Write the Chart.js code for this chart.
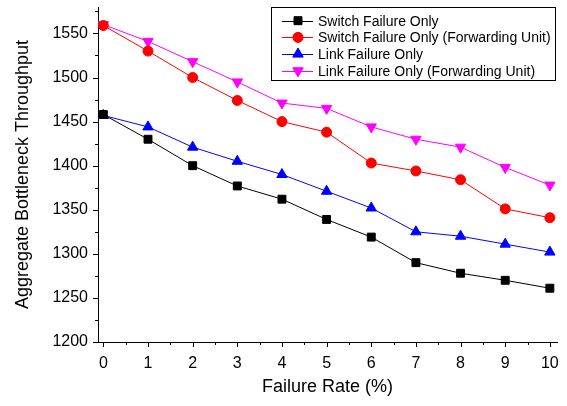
<!DOCTYPE html>
<html>
<head>
<meta charset="utf-8">
<script src="https://cdn.jsdelivr.net/npm/chart.js@4.4.0/dist/chart.umd.min.js"></script>
<style>
  html, body { margin: 0; padding: 0; background: #fff; }
  #wrap { position: relative; width: 567px; height: 406px; }
</style>
</head>
<body>
<div id="wrap"><canvas id="c"></canvas></div>
<script>
  // failure rate (%) on x
  var failureRate = [0, 1, 2, 3, 4, 5, 6, 7, 8, 9, 10];
  var switchOnly    = [1458, 1430, 1400, 1377, 1362, 1339, 1319, 1290, 1278, 1270, 1261];
  var switchFwd     = [1559, 1530, 1500, 1474, 1450, 1438, 1403, 1394, 1384, 1351, 1341];
  var linkOnly      = [1457, 1444, 1421, 1405, 1390, 1371, 1352, 1325, 1320, 1311, 1302];
  var linkFwd       = [1560, 1541, 1518, 1495, 1471, 1465, 1444, 1430, 1421, 1398, 1378];
  var seriesNames = ["Switch Failure Only", "Switch Failure Only (Forwarding Unit)",
                     "Link Failure Only", "Link Failure Only (Forwarding Unit)"];
  var xTicks = [0, 1, 2, 3, 4, 5, 6, 7, 8, 9, 10];
  var xMinor = [0.5, 1.5, 2.5, 3.5, 4.5, 5.5, 6.5, 7.5, 8.5, 9.5];
  var yTicks = [1200, 1250, 1300, 1350, 1400, 1450, 1500, 1550];
  var yMinor = [1225, 1275, 1325, 1375, 1425, 1475, 1525, 1575];

  var FONT = "Arial, 'Liberation Sans', sans-serif";

  function pts(vals) {
    return vals.map(function (v, i) { return { x: failureRate[i], y: v }; });
  }
  function ds(label, vals, color, style, r, rot) {
    return {
      label: label, data: pts(vals), borderColor: color, backgroundColor: color,
      borderWidth: 1, pointStyle: style, pointRadius: r, pointHoverRadius: r,
      pointRotation: rot || 0, pointBorderWidth: 1, showLine: true, tension: 0
    };
  }

  /* Origin-style tick marks: outward, major longer than minor */
  var tickMarks = {
    id: "tickMarks",
    afterDraw: function (chart) {
      var ctx = chart.ctx, xs = chart.scales.x, ys = chart.scales.y;
      var left = chart.chartArea.left, bottom = chart.chartArea.bottom;
      ctx.save();
      ctx.strokeStyle = "#000";
      ctx.lineWidth = 1;
      ctx.beginPath();
      xTicks.forEach(function (v) { var p = Math.round(xs.getPixelForValue(v)) + 0.5; ctx.moveTo(p, bottom); ctx.lineTo(p, bottom + 5); });
      xMinor.forEach(function (v) { var p = Math.round(xs.getPixelForValue(v)) + 0.5; ctx.moveTo(p, bottom); ctx.lineTo(p, bottom + 3); });
      yTicks.forEach(function (v) { var p = Math.round(ys.getPixelForValue(v)) + 0.5; ctx.moveTo(left, p); ctx.lineTo(left - 5, p); });
      yMinor.forEach(function (v) { var p = Math.round(ys.getPixelForValue(v)) + 0.5; ctx.moveTo(left, p); ctx.lineTo(left - 3, p); });
      ctx.stroke();
      ctx.restore();
    }
  };

  /* Boxed legend in the top-right corner */
  var boxLegend = {
    id: "boxLegend",
    afterDraw: function (chart) {
      var ctx = chart.ctx;
      var x0 = 271, y0 = 7, w = 284, h = 73, row = 16.7;
      ctx.save();
      ctx.fillStyle = "#fff";
      ctx.fillRect(x0, y0, w, h);
      ctx.strokeStyle = "#000";
      ctx.lineWidth = 1;
      ctx.strokeRect(x0 + 0.5, y0 + 0.5, w, h);
      chart.data.datasets.forEach(function (d, i) {
        var cy = y0 + 13.7 + i * row;
        ctx.strokeStyle = d.borderColor;
        ctx.beginPath();
        ctx.moveTo(x0 + 11, Math.round(cy) + 0.5);
        ctx.lineTo(x0 + 42, Math.round(cy) + 0.5);
        ctx.stroke();
        ctx.fillStyle = d.backgroundColor;
        Chart.helpers.drawPoint(ctx, {
          pointStyle: d.pointStyle, radius: d.pointRadius, rotation: d.pointRotation, borderWidth: 1
        }, x0 + 27, cy);
        ctx.fill();
        ctx.fillStyle = "#000";
        ctx.font = "14px " + FONT;
        ctx.textBaseline = "middle";
        ctx.fillText(d.label, x0 + 47, cy + 1);
      });
      ctx.restore();
    }
  };

  function noPad(s) {
    s.paddingTop = 0; s.paddingBottom = 0; s.paddingLeft = 0; s.paddingRight = 0;
  }

  new Chart(document.getElementById("c"), {
    type: "scatter",
    data: {
      datasets: [
        ds(seriesNames[0], switchOnly, "#000000", "rect", 5.6),
        ds(seriesNames[1], switchFwd, "#ff0000", "circle", 5),
        ds(seriesNames[2], linkOnly, "#0000ff", "triangle", 6),
        ds(seriesNames[3], linkFwd, "#ff00ff", "triangle", 6, 180)
      ]
    },
    plugins: [tickMarks, boxLegend],
    options: {
      responsive: true, maintainAspectRatio: false, animation: false,
      devicePixelRatio: 1,
      layout: { padding: { top: 5, right: 10, left: 0, bottom: 0 } },
      plugins: { legend: { display: false }, tooltip: { enabled: false } },
      scales: {
        x: {
          type: "linear", min: -0.12, max: 10.16,
          afterBuildTicks: function (s) { s.ticks = xTicks.map(function (v) { return { value: v }; }); },
          afterFit: function (s) { s.height = 64; noPad(s); },
          grid: { display: false, drawTicks: false },
          border: { display: true, color: "#000", width: 1 },
          ticks: { color: "#000", padding: 12, font: { family: FONT, size: 16 }, maxRotation: 0 },
          title: { display: true, text: "Failure Rate (%)", color: "#000", font: { family: FONT, size: 18 }, padding: { top: 4, bottom: 8 } }
        },
        y: {
          type: "linear", min: 1200, max: 1580,
          afterBuildTicks: function (s) { s.ticks = yTicks.map(function (v) { return { value: v }; }); },
          afterFit: function (s) { s.width = 98; noPad(s); },
          grid: { display: false, drawTicks: false },
          border: { display: true, color: "#000", width: 1 },
          ticks: { color: "#000", padding: 10, font: { family: FONT, size: 16 },
                   callback: function (v) { return String(v); } },
          title: { display: true, text: "Aggregate Bottleneck Throughput", color: "#000", font: { family: FONT, size: 18 }, padding: { top: 12, bottom: 0 } }
        }
      }
    }
  });
</script>
</body>
</html>
